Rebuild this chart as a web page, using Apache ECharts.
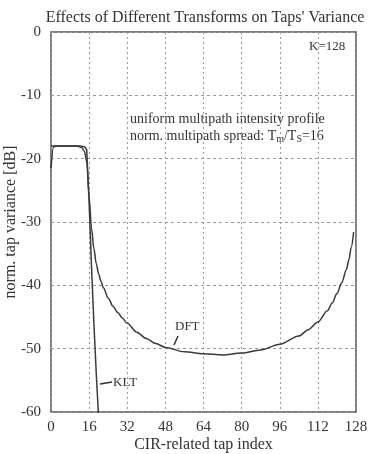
<!DOCTYPE html>
<html>
<head>
<meta charset="utf-8">
<script src="https://cdn.jsdelivr.net/npm/echarts@6/dist/echarts.min.js"></script>
<style>
  html, body { margin: 0; padding: 0; background: #fff; }
  #main { width: 370px; height: 454px; }
</style>
</head>
<body>
<div id="main"></div>
<script>
// tap index / variance in dB
var dftIdx = [0, 1, 2, 4, 6, 8, 10, 12, 13, 14, 15, 16, 17, 18, 19, 20, 21, 22, 24, 26, 28, 30, 32, 36, 40, 44, 48, 56, 64, 72, 80, 88, 96, 104, 108, 112, 116, 118, 120, 122, 124, 125, 126, 127];
var dftDb  = [-21.5, -18.2, -18, -18, -18, -18, -18, -18.1, -18.3, -18.8, -20.5, -26, -31, -34.2, -36.6, -38.2, -39.4, -40.4, -42, -43.3, -44.3, -45.2, -46, -47.4, -48.4, -49.2, -49.8, -50.5, -50.8, -51, -50.7, -50.2, -49.3, -48, -47, -45.8, -44, -42.8, -41.3, -39.6, -37.5, -36, -34, -31.6];

var kltIdx = [0, 1, 2, 4, 6, 8, 10, 12, 14, 15, 16, 17, 18, 19, 20];
var kltDb  = [-18, -18, -18, -18, -18, -18, -18, -18, -18.1, -18.6, -27, -37, -46, -54, -61];

var xTicks = [0, 16, 32, 48, 64, 80, 96, 112, 128];
var yTicks = [0, -10, -20, -30, -40, -50, -60];

function pairs(xs, ys) {
    return xs.map(function (x, i) { return [x, ys[i]]; });
}

var myChart = echarts.init(document.getElementById('main'));
var serif = 'Liberation Serif';
var txt = '#333';

option = {
    backgroundColor: '#fff',
    animation: false,
    textStyle: { fontFamily: serif },
    title: {
        text: "Effects of Different Transforms on Taps' Variance",
        left: 200,
        textAlign: 'center',
        top: 5,
        textStyle: { fontFamily: serif, fontSize: 16, fontWeight: 'normal', color: txt }
    },
    grid: {
        left: 51, right: 14, top: 32, bottom: 42,
        outerBoundsMode: 'none',
        containLabel: false,
        show: true,
        borderColor: '#555',
        borderWidth: 1.5
    },
    xAxis: {
        type: 'value',
        min: 0, max: 128, interval: 16,
        name: 'CIR-related tap index',
        nameLocation: 'middle',
        nameGap: 25,
        nameMoveOverlap: false,
        nameTextStyle: { fontFamily: serif, fontSize: 16, color: txt },
        axisLine: { show: false },
        axisTick: { show: false },
        axisLabel: {
            fontFamily: serif, fontSize: 15, color: txt, margin: 8,
            formatter: function (v) { return xTicks.indexOf(v) >= 0 ? String(v) : ''; }
        },
        splitLine: { show: true, lineStyle: { color: '#999', type: [2, 3], width: 1 } }
    },
    yAxis: {
        type: 'value',
        min: -60, max: 0, interval: 10,
        name: 'norm. tap variance [dB]',
        nameLocation: 'middle',
        nameGap: 32,
        nameMoveOverlap: false,
        nameTextStyle: { fontFamily: serif, fontSize: 16, color: txt },
        axisLine: { show: false },
        axisTick: { show: false },
        axisLabel: {
            fontFamily: serif, fontSize: 15, color: txt, margin: 10,
            formatter: function (v) { return yTicks.indexOf(v) >= 0 ? String(v) : ''; }
        },
        splitLine: { show: true, lineStyle: { color: '#999', type: [3, 3], width: 1 } }
    },
    graphic: [
        { type: 'text', left: 309, top: 40, style: { text: 'K=128', font: '13px "Liberation Serif"', fill: txt } },
        { type: 'text', left: 130, top: 112, style: { text: 'uniform multipath intensity profile', font: '14px "Liberation Serif"', fill: txt } },
        { type: 'text', left: 130, top: 129, style: {
            text: '{a|norm. multipath spread: T}{s|m}{a|/T}{s|S}{a|=16}',
            rich: {
                a: { fontFamily: serif, fontSize: 14, fill: txt, color: txt },
                s: { fontFamily: serif, fontSize: 10, fill: txt, color: txt, verticalAlign: 'bottom', padding: [6, 0, 0, 0] }
            }
        } },
        { type: 'text', left: 175, top: 320, style: { text: 'DFT', font: '13px "Liberation Serif"', fill: txt } },
        { type: 'line', shape: { x1: 178, y1: 336, x2: 174, y2: 345 }, style: { stroke: '#333', lineWidth: 1.5 } },
        { type: 'text', left: 113, top: 376, style: { text: 'KLT', font: '13px "Liberation Serif"', fill: txt } },
        { type: 'line', shape: { x1: 100, y1: 384, x2: 112, y2: 382 }, style: { stroke: '#333', lineWidth: 1.5 } }
    ],
    series: [
        {
            name: 'DFT',
            type: 'line',
            data: pairs(dftIdx, dftDb),
            showSymbol: false,
            smooth: 0.3,
            smoothMonotone: 'x',
            lineStyle: { color: '#3a3a3a', width: 1.5 },
            clip: true
        },
        {
            name: 'KLT',
            type: 'line',
            data: pairs(kltIdx, kltDb),
            showSymbol: false,
            lineStyle: { color: '#3a3a3a', width: 1.5 },
            clip: true
        }
    ]
};

myChart.setOption(option);
</script>
</body>
</html>
